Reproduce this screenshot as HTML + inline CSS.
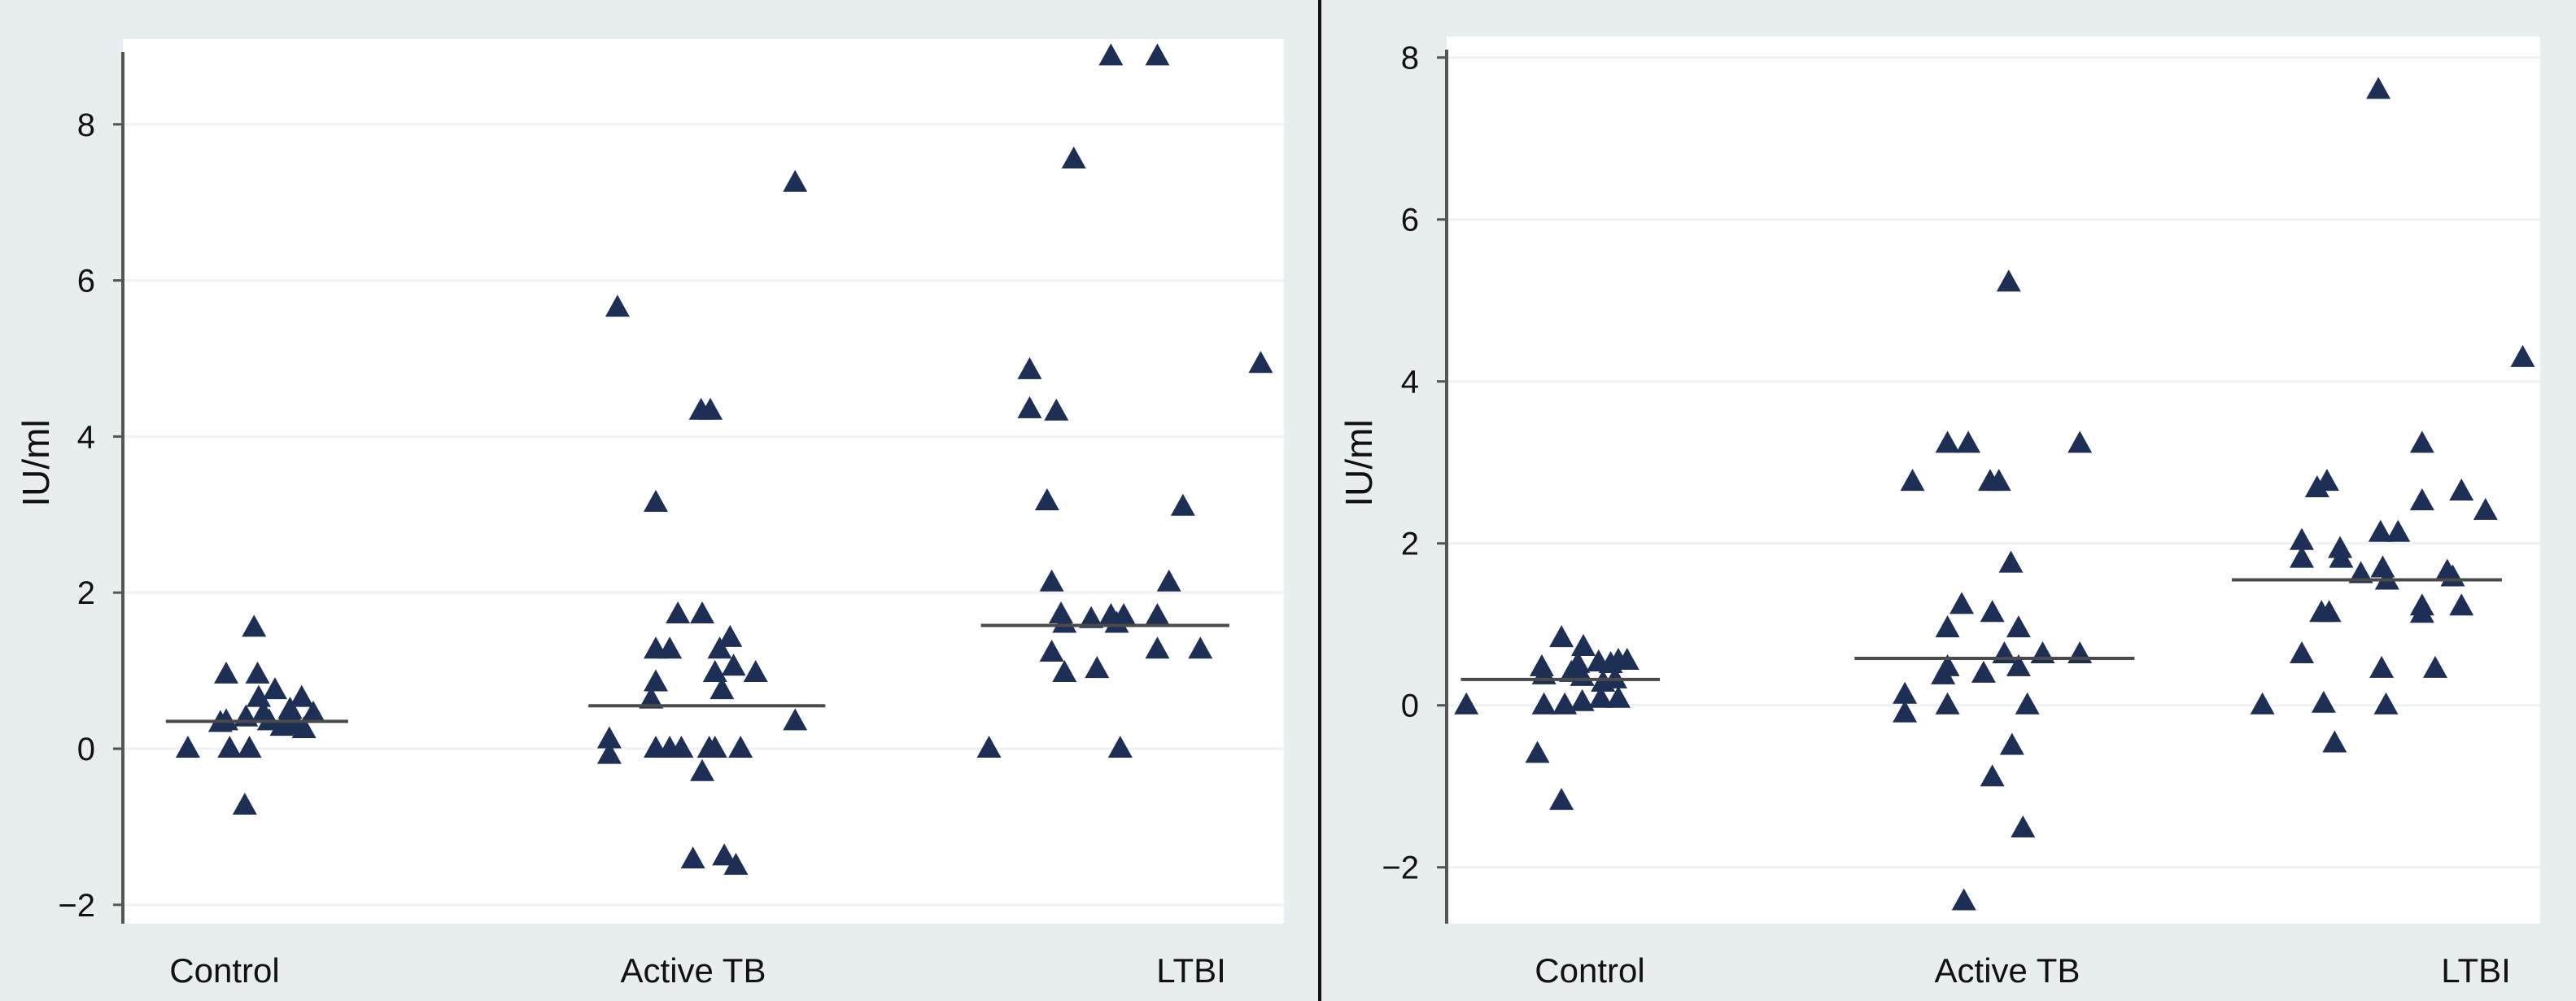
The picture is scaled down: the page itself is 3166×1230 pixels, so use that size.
<!DOCTYPE html>
<html><head><meta charset="utf-8"><style>
html,body{margin:0;padding:0;background:#e8eef0;}
svg{display:block;font-family:"Liberation Sans",Arial,sans-serif;}
</style></head><body>
<svg id="chart" width="3166" height="1230" viewBox="0 0 3166 1230" xmlns="http://www.w3.org/2000/svg">
<rect x="0" y="0" width="3166" height="1230" fill="#e8eef0"/>
<line x1="1622" y1="0" x2="1622" y2="1230" stroke="#111" stroke-width="4"/>
<g id="left"></g>
<g id="right"></g>
</svg>
<script>
const categories = ["Control", "Active TB", "LTBI"];
const yTicks = [-2, 0, 2, 4, 6, 8];

// Left panel: x = jitter position (0-100 across plot), y = IU/ml
const leftControlX = [5.6,8.9,11.6,11.3,8.9,8.4,10.6,9.2,10.9,10.5,11.7,13.1,12.1,12.6,14.1,14.4,15.4,15.6,16.4,13.7,14.8];
const leftControlY = [0,0.95,0.95,1.55,0.35,0.33,0.4,0,0,-0.73,0.65,0.75,0.45,0.35,0.3,0.5,0.65,0.25,0.45,0.28,0.35];
const leftActiveX = [42.6,57.9,49.8,50.6,45.9,47.8,49.9,45.9,47.1,52.3,51.4,52.6,51,54.5,45.9,45.5,51.6,57.9,41.9,41.9,45.9,47.1,48.1,50.5,51,53.2,49.9,49.1,51.8,52.8];
const leftActiveY = [5.65,7.25,4.33,4.33,3.15,1.72,1.72,1.27,1.27,1.42,1.27,1.05,0.97,0.97,0.85,0.63,0.75,0.35,0.12,-0.08,0,0,0,0,0,0,-0.3,-1.42,-1.38,-1.5];
const leftLtbiX = [85.1,89.1,81.9,78.1,78.1,80.4,98,79.6,91.3,80,90.1,80.8,81.1,83.4,85.1,86.2,85.6,89.1,80,89.1,92.8,81.1,83.9,74.6,85.9];
const leftLtbiY = [8.87,8.87,7.55,4.85,4.35,4.32,4.93,3.17,3.1,2.13,2.13,1.72,1.6,1.66,1.7,1.7,1.6,1.7,1.23,1.27,1.27,0.97,1.02,0,0];
const leftMedians = [0.35, 0.55, 1.58];
const leftMedianStart = [3.7, 40.1, 73.9];
const leftMedianEnd = [19.4, 60.5, 95.3];

// Right panel
const rightControlX = [1.8,8.3,10.5,8.7,8.9,10.5,8.9,10.8,12.4,11.4,12.5,12.0,12.4,13.9,14.3,15.4,15.7,16.5,14.1,15.7,15.0];
const rightControlY = [0,-0.6,-1.18,0.47,0.37,0.83,0,0,0.04,0.4,0.72,0.51,0.35,0.53,0.28,0.32,0.55,0.55,0.08,0.08,0.51];
const rightActiveX = [51.4,45.8,47.7,57.9,42.6,49.7,50.5,51.6,47.1,49.9,45.8,52.3,54.5,57.9,51.0,52.3,45.8,45.4,49.1,41.9,41.9,45.8,53.1,51.7,49.9,52.7,47.3];
const rightActiveY = [5.22,3.23,3.23,3.23,2.76,2.76,2.76,1.75,1.24,1.14,0.95,0.95,0.63,0.63,0.63,0.47,0.47,0.37,0.39,0.13,-0.1,0,0,-0.5,-0.89,-1.52,-2.42];
const rightLtbiX = [85.2,98.4,89.2,79.6,80.5,89.2,92.8,95.0,78.2,85.4,87.0,78.2,81.7,81.8,83.6,85.6,86.0,91.5,92.0,80.0,80.7,89.2,89.2,92.8,78.2,85.5,90.4,74.6,80.2,85.9,81.2];
const rightLtbiY = [7.6,4.29,3.23,2.68,2.76,2.52,2.64,2.4,2.03,2.13,2.13,1.81,1.93,1.81,1.62,1.69,1.54,1.65,1.58,1.14,1.14,1.22,1.13,1.22,0.63,0.45,0.45,0,0.02,0,-0.47];
const rightMedians = [0.32, 0.58, 1.55];
const rightMedianStart = [1.3, 37.3, 71.8];
const rightMedianEnd = [19.5, 62.9, 96.5];

const NS = "http://www.w3.org/2000/svg";
function mk(parent, tag, attrs) {
  const e = document.createElementNS(NS, tag);
  for (const k in attrs) e.setAttribute(k, attrs[k]);
  parent.appendChild(e);
  return e;
}

function drawPanel(g, cfg, xsArr, ysArr, med, mStart, mEnd) {
  const xScale = v => cfg.x0 + v * (cfg.x1 - cfg.x0) / 100;
  const yScale = v => cfg.yZero - v * cfg.yUnit;
  const bg = mk(g, "rect", {x: cfg.x0, y: cfg.top, width: cfg.x1 - cfg.x0, height: cfg.bottom - cfg.top, fill: "#fff"});
  
  
  yTicks.forEach(t => {
    const y = yScale(t);
    if (y < cfg.top || y > cfg.bottom) return;
    const gl = mk(g, "line", {x1: cfg.x0, x2: cfg.x1, y1: y, y2: y, stroke: "#edf2f4", "stroke-width": 3});
    
    
    const tk = mk(g, "line", {x1: cfg.x0 - 12, x2: cfg.x0, y1: y, y2: y, stroke: "#555", "stroke-width": 3});
    
    
    const tl = mk(g, "text", {x: cfg.x0 - 34, y: y + 14, "text-anchor": "end", "font-size": 40, fill: "#111"});
    tl.textContent = t < 0 ? "\u2212" + Math.abs(t) : String(t);
    
    
  });
  const ax = mk(g, "line", {x1: cfg.x0, x2: cfg.x0, y1: cfg.top + 16, y2: cfg.bottom, stroke: "#555", "stroke-width": 4});
  
  
  const yt = mk(g, "text", {x: 0, y: 0, "text-anchor": "middle", "font-size": 46, fill: "#111",
    transform: "translate(" + cfg.ylabX + ",569) rotate(-90)"});
  yt.textContent = "IU/ml";
  
  
  categories.forEach((c, i) => {
    const ct = mk(g, "text", {x: cfg.catX[i], y: 1207, "text-anchor": "middle", "font-size": 42, fill: "#111"});
    ct.textContent = c;
    
    
  });
  for (let s = 0; s < 3; s++) {
    const xs = xsArr[s], ys = ysArr[s];
    for (let i = 0; i < ys.length; i++) {
      const cx = xScale(xs[i]), cy = yScale(ys[i]);
      const p = mk(g, "polygon", {points: (cx - 15) + "," + (cy + 11) + " " + (cx + 15) + "," + (cy + 11) + " " + cx + "," + (cy - 16), fill: "#1e2f55"});
      
      
    }
    const ml = mk(g, "line", {x1: xScale(mStart[s]), x2: xScale(mEnd[s]), y1: yScale(med[s]), y2: yScale(med[s]), stroke: "#4a4a4a", "stroke-width": 4});
    
    
  }
}

drawPanel(document.getElementById("left"),
  {x0: 151, x1: 1578, top: 48, bottom: 1135, yZero: 920, yUnit: 95.9, ylabX: 60, catX: [276, 852, 1464]},
  [leftControlX, leftActiveX, leftLtbiX], [leftControlY, leftActiveY, leftLtbiY], leftMedians, leftMedianStart, leftMedianEnd);
drawPanel(document.getElementById("right"),
  {x0: 1778, x1: 3122, top: 45, bottom: 1135, yZero: 866.7, yUnit: 99.5, ylabX: 1686, catX: [1954, 2467, 3043]},
  [rightControlX, rightActiveX, rightLtbiX], [rightControlY, rightActiveY, rightLtbiY], rightMedians, rightMedianStart, rightMedianEnd);
</script>
</body></html>
